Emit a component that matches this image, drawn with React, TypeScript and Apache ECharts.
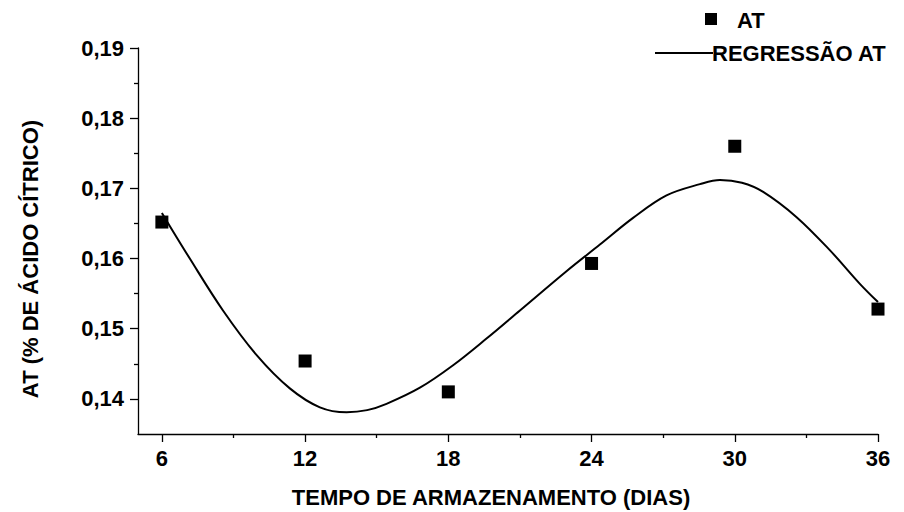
import React, { useEffect, useRef } from "react";
import * as echarts from "echarts";

const days = [6, 12, 18, 24, 30, 36];
const atValues = [0.1652, 0.1454, 0.141, 0.1593, 0.176, 0.1528];

const curveX = [6.0, 7.17, 8.56, 9.98, 11.36, 12.62, 13.74, 14.6, 15.41, 16.81, 18.2, 19.6, 21.0, 22.95, 24.35, 25.74, 27.14, 28.54, 29.38, 30.3, 31.19, 32.59, 33.98, 35.24, 36.0];
const curveY = [0.1665, 0.16, 0.1526, 0.1462, 0.1415, 0.1388, 0.1381, 0.1384, 0.1393, 0.1416, 0.1448, 0.1486, 0.1526, 0.1582, 0.162, 0.1658, 0.169, 0.1706, 0.1712, 0.1708, 0.1695, 0.1659, 0.1612, 0.1564, 0.1538];

const xMajorTicks = [6, 12, 18, 24, 30, 36];
const xMinorTicks = [9, 15, 21, 27, 33];
const yMajorTicks = [0.14, 0.15, 0.16, 0.17, 0.18, 0.19];
const yMinorTicks = [0.145, 0.155, 0.165, 0.175, 0.185];

const xTitle = "TEMPO DE ARMAZENAMENTO (DIAS)";
const yTitle = "AT (% DE ÁCIDO CÍTRICO)";
const legendPoints = "AT";
const legendCurve = "REGRESSÃO AT";

const FONT = "'Liberation Sans', Arial, sans-serif";

export default function App() {
  const ref = useRef<HTMLDivElement>(null);
  useEffect(() => {
    if (!ref.current) return;
    const chart = echarts.init(ref.current, undefined, { renderer: "svg" });
    const lineStyle = { color: "#000", width: 1.3 };
    const baseX = {
      type: "value",
      min: 5,
      max: 36,
      position: "bottom",
      splitLine: { show: false },
    };
    const baseY = {
      type: "value",
      min: 0.135,
      max: 0.19,
      position: "left",
      splitLine: { show: false },
    };
    chart.setOption({
      animation: false,
      backgroundColor: "#fff",
      grid: { left: 138, right: 26, top: 48, bottom: 78 },
      xAxis: [
        {
          ...baseX,
          axisLine: { show: true, lineStyle },
          axisTick: { show: true, length: 8, lineStyle, customValues: xMajorTicks },
          axisLabel: {
            show: true,
            customValues: xMajorTicks,
            margin: 13,
            color: "#000",
            fontFamily: FONT,
            fontWeight: "bold",
            fontSize: 22,
            formatter: (v: number) => String(v),
          },
        },
        {
          ...baseX,
          axisLine: { show: false },
          axisTick: { show: true, length: 4, lineStyle, customValues: xMinorTicks },
          axisLabel: { show: false },
        },
      ],
      yAxis: [
        {
          ...baseY,
          axisLine: { show: true, lineStyle },
          axisTick: { show: true, length: 8, lineStyle, customValues: yMajorTicks },
          axisLabel: {
            show: true,
            customValues: yMajorTicks,
            margin: 14,
            color: "#000",
            fontFamily: FONT,
            fontWeight: "bold",
            fontSize: 22,
            formatter: (v: number) => v.toFixed(2).replace(".", ","),
          },
        },
        {
          ...baseY,
          axisLine: { show: false },
          axisTick: { show: true, length: 4, lineStyle, customValues: yMinorTicks },
          axisLabel: { show: false },
        },
      ],
      series: [
        {
          name: legendCurve,
          type: "line",
          data: curveX.map((x, i) => [x, curveY[i]]),
          smooth: 0.35,
          showSymbol: false,
          symbol: "none",
          lineStyle: { color: "#000", width: 2 },
          z: 2,
        },
        {
          name: legendPoints,
          type: "scatter",
          data: days.map((d, i) => [d, atValues[i]]),
          symbol: "rect",
          symbolSize: 13,
          itemStyle: { color: "#000", opacity: 1 },
          clip: false,
          z: 3,
        },
      ],
      graphic: [
        {
          type: "text",
          x: 491,
          y: 497,
          style: {
            text: xTitle,
            fill: "#000",
            font: `bold 22px ${FONT}`,
            align: "center",
            verticalAlign: "middle",
          },
        },
        {
          type: "text",
          x: 30,
          y: 259,
          rotation: Math.PI / 2,
          style: {
            text: yTitle,
            fill: "#000",
            font: `bold 22px ${FONT}`,
            align: "center",
            verticalAlign: "middle",
          },
        },
        {
          type: "rect",
          shape: { x: 705, y: 13, width: 12, height: 12 },
          style: { fill: "#000" },
        },
        {
          type: "text",
          x: 737,
          y: 20,
          style: {
            text: legendPoints,
            fill: "#000",
            font: `bold 22px ${FONT}`,
            align: "left",
            verticalAlign: "middle",
          },
        },
        {
          type: "line",
          shape: { x1: 655, y1: 53, x2: 713, y2: 53 },
          style: { stroke: "#000", lineWidth: 2 },
        },
        {
          type: "text",
          x: 712,
          y: 53,
          style: {
            text: legendCurve,
            fill: "#000",
            font: `bold 22px ${FONT}`,
            align: "left",
            verticalAlign: "middle",
          },
        },
      ],
    });
    return () => chart.dispose();
  }, []);
  return (
    <div
      ref={ref}
      style={{ position: "fixed", left: 0, top: 0, width: 904, height: 512 }}
    />
  );
}
